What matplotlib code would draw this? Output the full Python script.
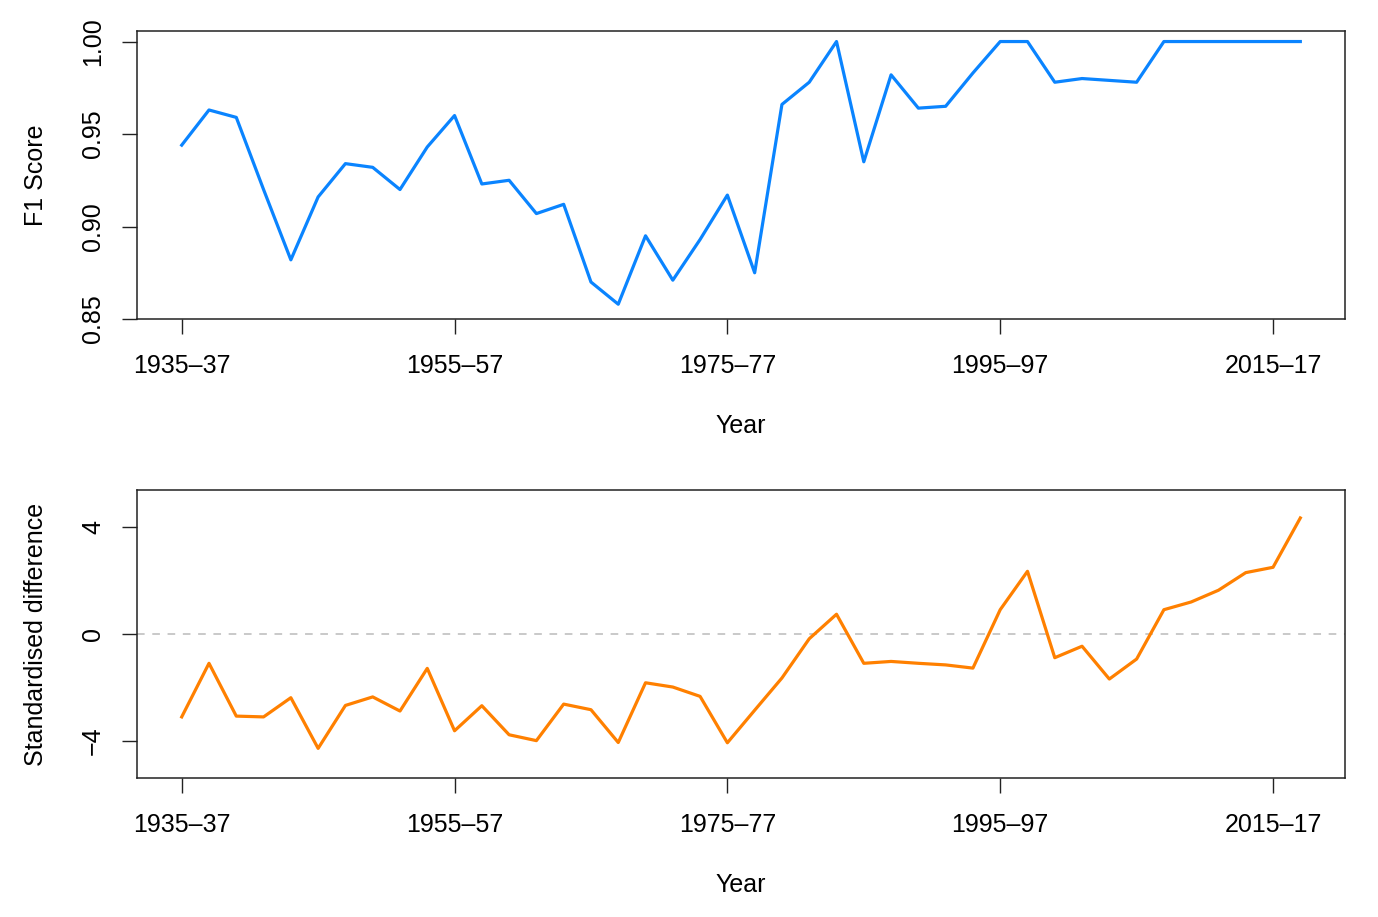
import matplotlib.pyplot as plt

plt.rcParams['font.family'] = ['Liberation Sans', 'DejaVu Sans']

# x is the index of each two-year-step period, 1935-37 onwards
periods = list(range(42))
tick_pos = [0, 10, 20, 30, 40]
tick_labels = ['1935\u201337', '1955\u201357', '1975\u201377', '1995\u201397', '2015\u201317']

f1 = [0.944, 0.963, 0.959, 0.920, 0.882, 0.916, 0.934, 0.932, 0.920, 0.943,
      0.960, 0.923, 0.925, 0.907, 0.912, 0.870, 0.858, 0.895, 0.871, 0.893,
      0.917, 0.875, 0.966, 0.978, 1.000, 0.935, 0.982, 0.964, 0.965, 0.983,
      1.000, 1.000, 0.978, 0.980, 0.979, 0.978, 1.000, 1.000, 1.000, 1.000,
      1.000, 1.000]

std_diff = [-3.11, -1.10, -3.08, -3.11, -2.39, -4.29, -2.68, -2.36, -2.89, -1.29,
            -3.63, -2.69, -3.78, -4.00, -2.63, -2.84, -4.07, -1.83, -1.99, -2.34,
            -4.08, -2.86, -1.65, -0.18, 0.74, -1.10, -1.03, -1.10, -1.16, -1.28,
            0.91, 2.35, -0.89, -0.46, -1.69, -0.94, 0.91, 1.20, 1.64, 2.30,
            2.50, 4.35]

fig = plt.figure(figsize=(13.78, 9.17), dpi=100)
ax1 = fig.add_axes([0.0994, 0.6521, 0.8767, 0.3141])
ax2 = fig.add_axes([0.0994, 0.1516, 0.8767, 0.3141])

ax1.plot(periods, f1, color='#0A84FF', lw=2.3)
ax1.set_ylim(0.8518, 1.0057)
ax1.set_yticks([0.85, 0.90, 0.95, 1.00])
ax1.set_yticklabels(['0.85', '0.90', '0.95', '1.00'])
ax1.set_ylabel('F1 Score', labelpad=24)

ax2.axhline(0, color='#BBBBBB', lw=1.1, dashes=(5, 5))
ax2.plot(periods, std_diff, color='#FF8000', lw=2.3)
ax2.set_ylim(-5.4, 5.4)
ax2.set_yticks([-4, 0, 4])
ax2.set_yticklabels(['\u22124', '0', '4'])
ax2.set_ylabel('Standardised difference', labelpad=24)

for ax in (ax1, ax2):
    ax.set_xlim(-1.64, 42.64)
    ax.set_xticks(tick_pos)
    ax.set_xticklabels(tick_labels)
    ax.set_xlabel('Year', labelpad=26)
    ax.xaxis.label.set_size(18)
    ax.yaxis.label.set_size(18)
    ax.tick_params(axis='both', length=11, width=1, labelsize=18, color='#222222')
    ax.tick_params(axis='x', pad=14)
    ax.tick_params(axis='y', pad=12)
    for lbl in ax.get_yticklabels():
        lbl.set_rotation(90)
        lbl.set_va('center')
    for s in ax.spines.values():
        s.set_linewidth(1.1)
        s.set_color('#222222')

fig.savefig('out.png', dpi=100)
